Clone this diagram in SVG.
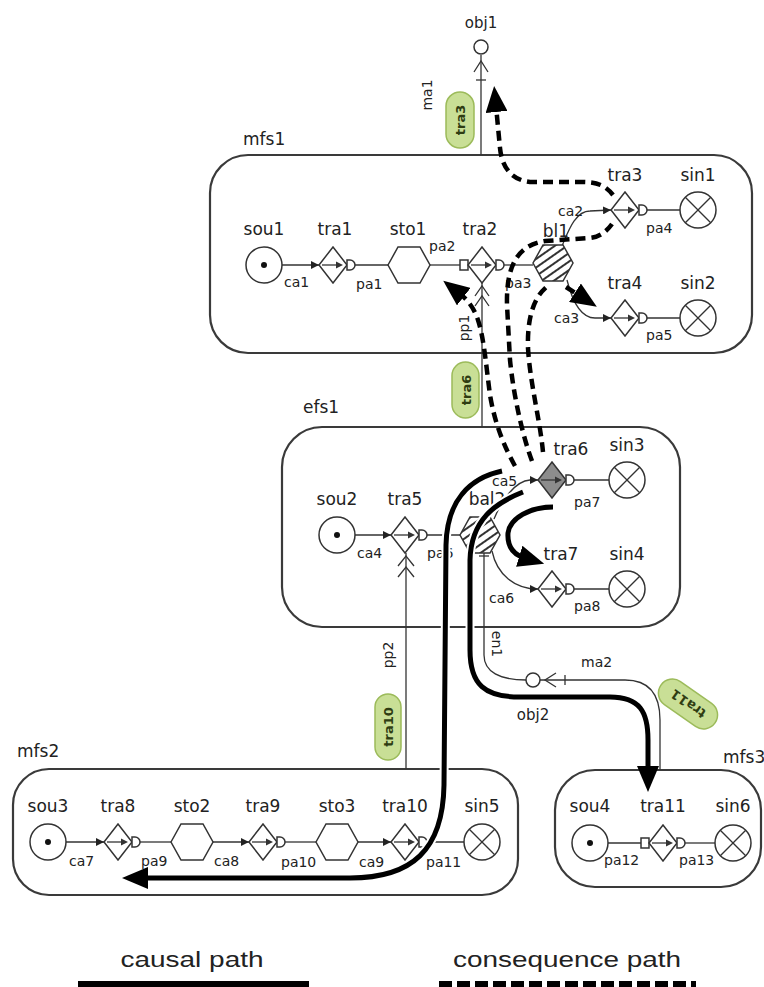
<svg xmlns="http://www.w3.org/2000/svg" width="764" height="987" viewBox="0 0 764 987">
<style>
.box{fill:none;stroke:#3a3a3a;stroke-width:2.2}
.shape{fill:#fff;stroke:#333;stroke-width:1.5}
.ln{fill:none;stroke:#333;stroke-width:1.3}
.lbl{font-family:"DejaVu Sans","Liberation Sans",sans-serif;font-size:17px;fill:#222;text-anchor:middle}
.sm{font-family:"DejaVu Sans","Liberation Sans",sans-serif;font-size:14px;fill:#222}
.causal{fill:none;stroke:#000;stroke-width:5}
.halo{fill:none;stroke:#fff;stroke-width:9}
.cons{fill:none;stroke:#000;stroke-width:4.5;stroke-dasharray:10 6}
.pill{fill:#c9df96;stroke:#9cbb5a;stroke-width:1.5}
.ptxt{font-family:"DejaVu Sans","Liberation Sans",sans-serif;font-weight:bold;font-size:13px;fill:#2f3d12;text-anchor:middle}
.leg{font-family:"Liberation Sans",sans-serif;font-size:22px;fill:#222;text-anchor:middle}
</style>
<defs>
<marker id="sa" markerUnits="userSpaceOnUse" viewBox="0 0 8 8" markerWidth="8" markerHeight="8" refX="8" refY="4" orient="auto"><path d="M0,0 L8,4 L0,8 z" fill="#222"/></marker>
<marker id="big" markerUnits="userSpaceOnUse" viewBox="0 0 26 22" markerWidth="26" markerHeight="22" refX="6" refY="11" orient="auto"><path d="M0,0 L26,11 L0,22 z" fill="#000"/></marker>
<pattern id="hatch" patternUnits="userSpaceOnUse" width="7" height="7" patternTransform="rotate(-35)"><rect width="7" height="7" fill="#fff"/><rect width="7" height="2" fill="#333"/></pattern>
<g id="tra"><polygon class="shape" points="0,-18 14,0 0,18 -14,0"/><line class="ln" x1="-11" y1="0" x2="5" y2="0"/><path d="M10,0 L3,-3.5 L3,3.5 z" fill="#333"/><path class="shape" d="M14,-5 h3 a5,5 0 0 1 0,10 h-3 z"/></g>
<g id="traG"><polygon fill="#8c8c8c" stroke="#333" stroke-width="1.5" points="0,-18 14,0 0,18 -14,0"/><line class="ln" x1="-11" y1="0" x2="5" y2="0"/><path d="M10,0 L3,-3.5 L3,3.5 z" fill="#333"/><path class="shape" d="M14,-5 h3 a5,5 0 0 1 0,10 h-3 z"/></g>
<rect id="lport" class="shape" x="-22" y="-5" width="8" height="10"/>
<g id="sou"><circle class="shape" r="18"/><circle r="3" fill="#111"/></g>
<g id="sin"><circle class="shape" r="18"/><line class="ln" x1="-12.7" y1="-12.7" x2="12.7" y2="12.7"/><line class="ln" x1="-12.7" y1="12.7" x2="12.7" y2="-12.7"/></g>
<polygon id="sto" class="shape" points="-21,0 -11,-18 11,-18 21,0 11,18 -11,18"/>
<polygon id="hat" fill="url(#hatch)" stroke="#333" stroke-width="1.5" points="-20,0 -10,-18 10,-18 20,0 10,18 -10,18"/>
</defs>
<rect width="764" height="987" fill="#fff"/>

<!-- containers -->
<g id="mfs1"><rect class="box" x="210" y="155" width="542" height="198" rx="38"/><text class="lbl" x="243" y="145" style="text-anchor:start">mfs1</text></g>
<g id="efs1"><rect class="box" x="282" y="427" width="398" height="200" rx="40"/><text class="lbl" x="303" y="413" style="text-anchor:start">efs1</text></g>
<g id="mfs2"><rect class="box" x="13" y="769" width="505" height="126" rx="36"/><text class="lbl" x="17" y="757" style="text-anchor:start">mfs2</text></g>
<g id="mfs3"><rect class="box" x="555" y="770" width="206" height="117" rx="40"/><text class="lbl" x="723" y="763" style="text-anchor:start">mfs3</text></g>

<!-- thin connectors -->
<g id="connectors">
<line class="ln" x1="282" y1="265" x2="319" y2="265" marker-end="url(#sa)"/>
<line class="ln" x1="355" y1="265" x2="388" y2="265"/>
<line class="ln" x1="430" y1="265" x2="460" y2="265"/>
<line class="ln" x1="504" y1="265" x2="533" y2="265"/>
<path class="ln" d="M562,246 C568,232 575,211 590,211 L611,210" marker-end="url(#sa)"/>
<line class="ln" x1="647" y1="210" x2="680" y2="210"/>
<path class="ln" d="M567,280 C572,300 580,318 595,318 L611,318" marker-end="url(#sa)"/>
<line class="ln" x1="647" y1="318" x2="680" y2="318"/>
<line class="ln" x1="481" y1="55" x2="481" y2="155"/>
<polyline class="ln" points="474,72 481,61 488,72"/>
<line class="ln" x1="476" y1="80" x2="486" y2="80"/>
<line class="ln" x1="482" y1="283" x2="482" y2="427"/>
<polyline class="ln" points="475,296 482,286 489,296"/>
<polyline class="ln" points="475,306 482,296 489,306"/>

<line class="ln" x1="355" y1="535" x2="391" y2="535" marker-end="url(#sa)"/>
<line class="ln" x1="427" y1="535" x2="460" y2="535"/>
<path class="ln" d="M494,519 C502,500 515,481 530,480 L538,480" marker-end="url(#sa)"/>
<line class="ln" x1="574" y1="480" x2="609" y2="480"/>
<path class="ln" d="M492,551 C497,575 515,589 538,589" marker-end="url(#sa)"/>
<line class="ln" x1="574" y1="589" x2="609" y2="589"/>
<line class="ln" x1="406" y1="553" x2="406" y2="769"/>
<polyline class="ln" points="398,566 406,556 414,566"/>
<polyline class="ln" points="398,577 406,567 414,577"/>
<line class="ln" x1="479" y1="556" x2="489" y2="556"/>
<path class="ln" d="M484,553 L484,655 C484,672 500,680 526,680"/>
<path class="ln" d="M540,680 L625,680 C650,680 660,695 660,720 L660,770"/>
<polyline class="ln" points="556,673 545,680 556,687"/>
<line class="ln" x1="565" y1="675" x2="565" y2="685"/>

<line class="ln" x1="66" y1="842" x2="104" y2="842" marker-end="url(#sa)"/>
<line class="ln" x1="140" y1="842" x2="171" y2="842"/>
<line class="ln" x1="213" y1="842" x2="249" y2="842" marker-end="url(#sa)"/>
<line class="ln" x1="285" y1="842" x2="316" y2="842"/>
<line class="ln" x1="358" y1="842" x2="391" y2="842" marker-end="url(#sa)"/>
<line class="ln" x1="427" y1="842" x2="464" y2="842"/>
<line class="ln" x1="608" y1="843" x2="641" y2="843"/>
<line class="ln" x1="685" y1="843" x2="715" y2="843"/>

<text class="sm" x="284" y="287">ca1</text>
<text class="sm" x="356" y="289">pa1</text>
<text class="sm" x="429" y="251">pa2</text>
<text class="sm" x="505" y="288">pa3</text>
<text class="sm" x="558" y="216">ca2</text>
<text class="sm" x="646" y="233">pa4</text>
<text class="sm" x="554" y="323">ca3</text>
<text class="sm" x="646" y="340">pa5</text>
<text class="sm" transform="translate(432,95) rotate(-90)" text-anchor="middle">ma1</text>
<text class="sm" transform="translate(469,328) rotate(-90)" text-anchor="middle">pp1</text>
<text class="sm" x="357" y="558">ca4</text>
<text class="sm" x="427" y="558">pa6</text>
<text class="sm" x="492" y="486">ca5</text>
<text class="sm" x="574" y="507">pa7</text>
<text class="sm" x="489" y="603">ca6</text>
<text class="sm" x="574" y="611">pa8</text>
<text class="sm" transform="translate(393,655) rotate(-90)" text-anchor="middle">pp2</text>
<text class="sm" transform="translate(492,644) rotate(90)" text-anchor="middle">en1</text>
<text class="sm" x="581" y="667">ma2</text>
<text class="sm" x="69" y="866">ca7</text>
<text class="sm" x="141" y="866">pa9</text>
<text class="sm" x="214" y="866">ca8</text>
<text class="sm" x="281" y="867">pa10</text>
<text class="sm" x="359" y="867">ca9</text>
<text class="sm" x="426" y="867">pa11</text>
<text class="sm" x="604" y="865">pa12</text>
<text class="sm" x="679" y="865">pa13</text>
</g>

<!-- nodes -->
<g id="obj1"><circle class="shape" cx="481" cy="47" r="7"/><text class="sm" x="481" y="28" text-anchor="middle" style="font-size:15px">obj1</text></g>
<g id="sou1"><use href="#sou" x="264" y="265"/><text class="lbl" x="264" y="235">sou1</text></g>
<g id="tra1"><use href="#tra" x="333" y="265"/><text class="lbl" x="335" y="235">tra1</text></g>
<g id="sto1"><use href="#sto" x="409" y="265"/><text class="lbl" x="408" y="235">sto1</text></g>
<g id="tra2"><use href="#lport" x="482" y="265"/><use href="#tra" x="482" y="265"/><text class="lbl" x="480" y="235">tra2</text></g>
<g id="bl1"><use href="#hat" x="553" y="263"/><text class="lbl" x="556" y="237">bl1</text></g>
<g id="tra3"><use href="#tra" x="625" y="210"/><text class="lbl" x="625" y="181">tra3</text></g>
<g id="sin1"><use href="#sin" x="698" y="210"/><text class="lbl" x="698" y="181">sin1</text></g>
<g id="tra4"><use href="#tra" x="625" y="318"/><text class="lbl" x="625" y="289">tra4</text></g>
<g id="sin2"><use href="#sin" x="698" y="318"/><text class="lbl" x="698" y="289">sin2</text></g>

<g id="sou2"><use href="#sou" x="337" y="535"/><text class="lbl" x="337" y="505">sou2</text></g>
<g id="tra5"><use href="#tra" x="405" y="535"/><text class="lbl" x="405" y="505">tra5</text></g>
<g id="bal2"><use href="#hat" x="480" y="535"/><text class="lbl" x="487" y="505">bal2</text></g>
<g id="tra6"><use href="#traG" x="552" y="480"/><text class="lbl" x="571" y="455">tra6</text></g>
<g id="sin3"><use href="#sin" x="627" y="480"/><text class="lbl" x="627" y="451">sin3</text></g>
<g id="tra7"><use href="#tra" x="552" y="589"/><text class="lbl" x="561" y="560">tra7</text></g>
<g id="sin4"><use href="#sin" x="627" y="589"/><text class="lbl" x="627" y="560">sin4</text></g>
<g id="obj2"><circle class="shape" cx="533" cy="680" r="7"/><text class="sm" x="533" y="720" text-anchor="middle" style="font-size:15px">obj2</text></g>

<g id="sou3"><use href="#sou" x="48" y="842"/><text class="lbl" x="48" y="812">sou3</text></g>
<g id="tra8"><use href="#tra" x="118" y="842"/><text class="lbl" x="118" y="812">tra8</text></g>
<g id="sto2"><use href="#sto" x="192" y="842"/><text class="lbl" x="192" y="812">sto2</text></g>
<g id="tra9"><use href="#tra" x="263" y="842"/><text class="lbl" x="263" y="812">tra9</text></g>
<g id="sto3"><use href="#sto" x="337" y="842"/><text class="lbl" x="337" y="812">sto3</text></g>
<g id="tra10"><use href="#tra" x="405" y="842"/><text class="lbl" x="405" y="812">tra10</text></g>
<g id="sin5"><use href="#sin" x="482" y="842"/><text class="lbl" x="482" y="812">sin5</text></g>
<g id="sou4"><use href="#sou" x="590" y="843"/><text class="lbl" x="590" y="812">sou4</text></g>
<g id="tra11"><use href="#lport" x="663" y="843"/><use href="#tra" x="663" y="843"/><text class="lbl" x="663" y="812">tra11</text></g>
<g id="sin6"><use href="#sin" x="733" y="843"/><text class="lbl" x="733" y="812">sin6</text></g>

<!-- pills -->
<g id="pill-tra3" transform="translate(460,120) rotate(-90)"><rect class="pill" x="-28" y="-14" width="56" height="28" rx="14"/><text class="ptxt" y="5">tra3</text></g>
<g id="pill-tra6" transform="translate(466,390) rotate(-90)"><rect class="pill" x="-28" y="-14" width="56" height="27" rx="13.5"/><text class="ptxt" y="5">tra6</text></g>
<g id="pill-tra10" transform="translate(388,727) rotate(-90)"><rect class="pill" x="-33" y="-13" width="66" height="26" rx="13"/><text class="ptxt" y="5">tra10</text></g>
<g id="pill-tra11" transform="translate(688,704) rotate(215)"><rect class="pill" x="-33" y="-14" width="66" height="28" rx="14"/><text class="ptxt" y="5">tra11</text></g>

<!-- causal and consequence paths -->
<g id="paths">
<path class="halo" d="M502,471 C470,478 447,500 446,545 L444,785 C443,850 412,878 350,878 L142,878"/>
<path class="causal" d="M502,471 C470,478 447,500 446,545 L444,785 C443,850 412,878 350,878 L142,878" marker-end="url(#big)"/>
<path class="halo" d="M523,492 C495,503 471,520 470,560 L470,650 C470,685 485,697 520,697 L610,697 C640,697 648,712 648,740 L648,772"/>
<path class="causal" d="M523,492 C495,503 471,520 470,560 L470,650 C470,685 485,697 520,697 L610,697 C640,697 648,712 648,740 L648,772" marker-end="url(#big)"/>
<path class="causal" d="M553,507 C530,507 510,518 508,533 C507,548 515,555 525,558" marker-end="url(#big)"/>
<path class="cons" d="M515,466 C505,448 495,425 490,395 C486,365 484,338 478,320 C474,308 468,300 459,293" marker-end="url(#big)"/>
<path class="cons" d="M532,461 C524,440 514,400 510,360 L507,305 C506,262 520,245 545,241 L590,238 C600,237 607,231 612,224"/>
<path class="cons" d="M613,195 C606,186 598,182 582,182 L530,182 C512,180 502,168 500,148 L496,106" marker-end="url(#big)"/>
<path class="cons" d="M543,452 C540,420 530,383 528,348 C527,315 535,295 549,285"/>
<path class="cons" d="M566,287 L580,296" marker-end="url(#big)"/>
</g>

<!-- legend -->
<g id="legend">
<text class="leg" x="192" y="967" textLength="143" lengthAdjust="spacingAndGlyphs">causal path</text>
<rect x="78" y="981" width="231" height="8" fill="#000"/>
<text class="leg" x="567" y="967" textLength="228" lengthAdjust="spacingAndGlyphs">consequence path</text>
<line x1="439" y1="985" x2="696" y2="985" stroke="#000" stroke-width="8" stroke-dasharray="13 5"/>
</g>
</svg>
